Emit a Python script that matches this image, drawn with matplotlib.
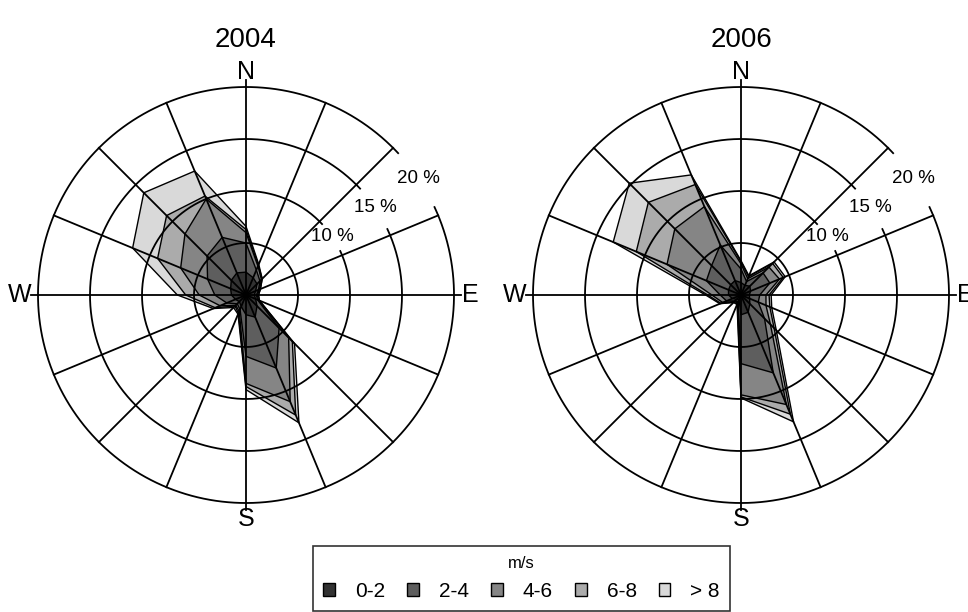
import numpy as np
import matplotlib
matplotlib.use("Agg")
import matplotlib.pyplot as plt
from matplotlib.patches import Patch

plt.rcParams['font.family'] = ['Liberation Sans', 'DejaVu Sans']

# 16 compass directions (clockwise from north)
directions = ['N', 'NNE', 'NE', 'ENE', 'E', 'ESE', 'SE', 'SSE',
              'S', 'SSW', 'SW', 'WSW', 'W', 'WNW', 'NW', 'NNW']
speed_classes = ['0-2', '2-4', '4-6', '6-8', '> 8']
class_colors = ['#323232', '#5e5e5e', '#858585', '#ababab', '#d9d9d9']

# frequency (%) per direction for each wind speed class (m/s) - 2004
f04_0_2 = [2.2, 1.8, 1.5, 1.0, 0.8, 1.0, 1.5, 2.3, 1.9, 1.2, 0.9, 1.1, 1.4, 1.6, 2.0, 2.3]
f04_2_4 = [2.8, 0.8, 0.4, 0.3, 0.2, 0.2, 3.0, 5.3, 4.0, 0.3, 0.3, 0.9, 1.6, 2.4, 3.3, 3.7]
f04_4_6 = [1.0, 0.4, 0.2, 0.1, 0.1, 0.1, 1.3, 3.5, 2.6, 0.2, 0.2, 0.7, 1.5, 2.8, 3.0, 4.0]
f04_6_8 = [0.3, 0.1, 0.1, 0.1, 0.1, 0.1, 0.5, 1.4, 0.3, 0.2, 0.1, 0.5, 1.3, 2.4, 2.5, 0.3]
f04_gt8 = [0.3, 0.1, 0.0, 0.0, 0.0, 0.0, 0.3, 0.8, 0.3, 0.1, 0.2, 0.2, 0.8, 2.6, 3.1, 2.6]

# 2006
f06_0_2 = [1.2, 1.0, 1.2, 1.0, 0.8, 0.9, 1.2, 1.8, 1.9, 0.5, 0.6, 0.9, 1.2, 1.3, 1.4, 1.5]
f06_2_4 = [1.3, 0.4, 1.8, 2.0, 1.0, 0.9, 2.0, 6.3, 4.7, 0.2, 0.2, 0.6, 0.8, 2.3, 2.6, 3.7]
f06_4_6 = [0.5, 0.3, 0.8, 1.0, 0.6, 0.8, 0.8, 3.3, 3.0, 0.1, 0.1, 0.4, 0.8, 4.1, 5.0, 4.0]
f06_6_8 = [0.2, 0.2, 0.5, 0.4, 0.3, 0.4, 0.5, 1.0, 0.2, 0.1, 0.1, 0.2, 0.4, 3.2, 3.6, 2.3]
f06_gt8 = [0.1, 0.1, 0.2, 0.2, 0.2, 0.2, 0.3, 0.8, 0.1, 0.1, 0.0, 0.1, 0.2, 2.4, 2.6, 1.0]

years = ['2004', '2006']
year_data = [[f04_0_2, f04_2_4, f04_4_6, f04_6_8, f04_gt8],
             [f06_0_2, f06_2_4, f06_4_6, f06_6_8, f06_gt8]]

ring_values = [5, 10, 15, 20]
ring_labels = ['', '10 %', '15 %', '20 %']
r_max = 20

W, H = 968, 612
fig = plt.figure(figsize=(W / 100, H / 100), dpi=100)

centers = [(246, 295), (741, 295)]
rad_px = 208

dir_theta = np.deg2rad(np.arange(len(directions)) * 360.0 / len(directions))

for year, data, (cx, cy) in zip(years, year_data, centers):
    ax = fig.add_axes([(cx - rad_px) / W, (H - cy - rad_px) / H,
                       2 * rad_px / W, 2 * rad_px / H], projection='polar')
    ax.set_theta_zero_location('N')
    ax.set_theta_direction(-1)
    ax.set_ylim(0, r_max)
    ax.grid(False)
    ax.set_xticks([])
    ax.set_yticks([])
    ax.spines['polar'].set_visible(False)

    cum = np.cumsum(np.array(data), axis=0)
    th = np.append(dir_theta, dir_theta[0])
    for k in reversed(range(len(speed_classes))):
        r = np.append(cum[k], cum[k][0])
        ax.fill(th, r, facecolor=class_colors[k], edgecolor='black',
                linewidth=1.0, zorder=2)

    # rings (with a gap for labels between NE and ENE)
    for rv, lab in zip(ring_values, ring_labels):
        if lab:
            t = np.deg2rad(np.linspace(65, 407, 600))
        else:
            t = np.linspace(0, 2 * np.pi, 600)
        ax.plot(t, np.full_like(t, rv), color='black', lw=1.3, zorder=3,
                clip_on=False)
        if lab:
            ax.text(np.deg2rad(56), rv, lab, ha='center', va='center',
                    fontsize=13.5, zorder=4)

    # spokes
    for i, d in enumerate(directions):
        r_end = 20.7 if d in ('N', 'E', 'S', 'W') else r_max
        ax.plot([dir_theta[i], dir_theta[i]], [0, r_end], color='black',
                lw=1.3, zorder=3, clip_on=False)

    for d, rr in zip(['N', 'E', 'S', 'W'], [21.4, 21.6, 21.5, 21.8]):
        i = directions.index(d)
        ax.text(dir_theta[i], rr, d, ha='center', va='center', fontsize=18)

    fig.text(cx / W, 1 - 40 / H, year, ha='center', va='center', fontsize=20)

handles = [Patch(facecolor=c, edgecolor='black', linewidth=1.0) for c in class_colors]
leg = fig.legend(handles, speed_classes, title='m/s', ncol=5, loc='upper left',
                 bbox_to_anchor=(313 / W, 1 - 546 / H), borderaxespad=0.0,
                 frameon=True, fancybox=False,
                 edgecolor='black', fontsize=15, title_fontsize=12,
                 handlelength=0.56, handleheight=0.56, columnspacing=1.06,
                 handletextpad=0.96, borderpad=0.5, labelspacing=0.5)
leg.get_frame().set_linewidth(1.2)

fig.savefig('out.png', dpi=100)
